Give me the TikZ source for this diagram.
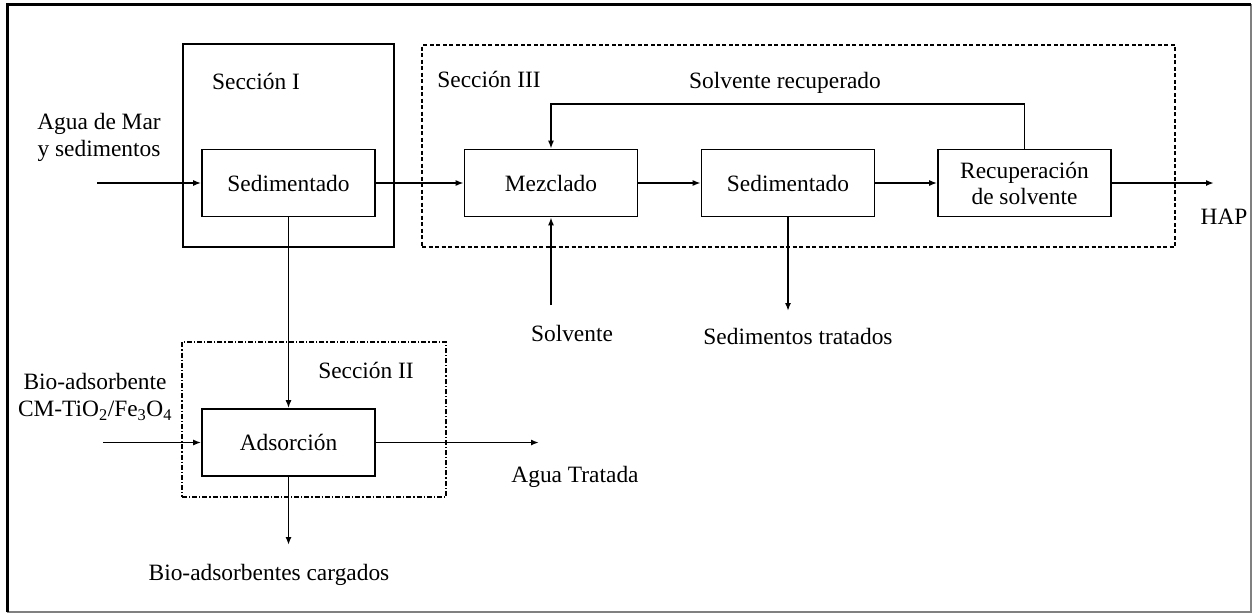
\documentclass[tikz,border=0pt]{standalone}
\usepackage{fontspec}
\setmainfont{Liberation Serif}
\usetikzlibrary{arrows.meta}
\begin{document}
\begin{tikzpicture}[x=1pt,y=-1pt,
  every node/.style={font=\fontsize{23.4}{27}\selectfont, inner sep=0pt},
  proc/.style={draw, line width=1.6pt, minimum width=173pt, minimum height=67pt, align=center},
  secbox/.style={line width=1.5pt},
  arr/.style={line width=1.6pt, -{Latex[length=8pt,width=6pt]}},
  lbl/.style={align=center}]
\useasboundingbox (0,0) rectangle (1255,614);
% outer frame
\draw[line width=1.2pt, gray] (1251,4) -- (1251,612) -- (7,612);
\draw[line width=3pt] (7,612) -- (7,4) -- (1251,4);
% section boxes
\node[draw, secbox, minimum width=211pt, minimum height=203pt] (sec1) at (288.5,145.5) {};
\node[draw, secbox, dash pattern=on 4pt off 2.5pt, minimum width=753pt, minimum height=202pt] (sec3) at (798.5,146) {};
\node[draw, secbox, dash pattern=on 5pt off 2pt on 1.2pt off 2pt, minimum width=264pt, minimum height=155pt] (sec2) at (314,419.5) {};
% process boxes
\node[proc, fill=white] (sed1) at (288.5,183) {Sedimentado};
\node[proc, fill=white] (mez) at (551,183) {Mezclado};
\node[proc, fill=white] (sed2) at (788,183) {Sedimentado};
\node[proc, fill=white, font=\fontsize{23.4}{26}\selectfont] (rec) at (1024.5,183) {Recuperación\\de solvente};
\node[proc, fill=white] (ads) at (288.5,442.5) {Adsorción};
% labels
\node (lsec1) at (256,81) {Sección I};
\node (lsec3) at (489,79) {Sección III};
\node (lsec2) at (366,370) {Sección II};
\node[lbl] (lagua) at (99,137) {Agua de Mar\\y sedimentos};
\node (lsolrec) at (785,83) {Solvente recuperado};
\node (lhap) at (1224,217) {HAP};
\node (lsolv) at (572,333) {Solvente};
\node (lsedt) at (798,336) {Sedimentos tratados};
\node[lbl] (lbio) at (95,397) {Bio-adsorbente\\CM-TiO\textsubscript{2}/Fe\textsubscript{3}O\textsubscript{4}};
\node (lagt) at (575,477) {Agua Tratada};
\node (lbioc) at (269,575) {Bio-adsorbentes cargados};
% free ends
\coordinate (in1) at (97,183);
\coordinate (outhap) at (1214,183);
\coordinate (fb) at (551,104);
\coordinate (insolv) at (551,305);
\coordinate (outsed) at (788,311);
\coordinate (in2) at (103,442.5);
\coordinate (outagua) at (539,442.5);
\coordinate (outbio) at (288.5,545);
% connectors
\draw[arr] (in1) -- (sed1.west);
\draw[arr] (sed1.east) -- (mez.west);
\draw[arr] (mez.east) -- (sed2.west);
\draw[arr] (sed2.east) -- (rec.west);
\draw[arr] (rec.east) -- (outhap);
\draw[arr] (rec.north) |- (fb) -- (mez.north);
\draw[arr] (insolv) -- (mez.south);
\draw[arr] (sed2.south) -- (outsed);
\draw[arr] (sed1.south) -- (ads.north);
\draw[arr] (in2) -- (ads.west);
\draw[arr] (ads.east) -- (outagua);
\draw[arr] (ads.south) -- (outbio);
\end{tikzpicture}
\end{document}
